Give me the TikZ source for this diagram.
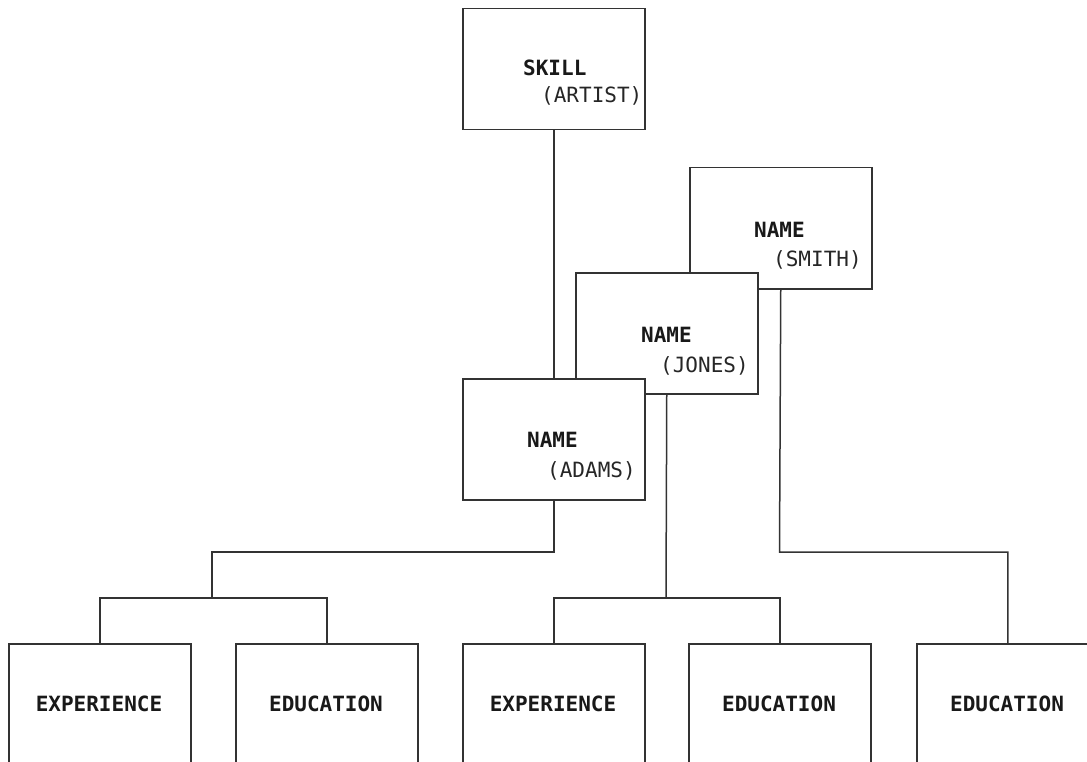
\documentclass[tikz,border=0pt]{standalone}
\usepackage{fontspec}
\setmonofont{DejaVu Sans Mono}
\tikzset{
  ln/.style={line width=1.5pt, draw=black!80},
  box/.style={ln, rectangle, fill=white, minimum width=182pt, minimum height=121pt,
              inner sep=0pt, anchor=north west},
  leaf/.style={ln, rectangle, fill=white, minimum width=182pt, minimum height=160pt,
               inner sep=0pt, anchor=north west},
  head/.style={anchor=base west, inner sep=0pt, text=black!90,
               font=\ttfamily\bfseries\fontsize{21}{21}\selectfont},
  val/.style={anchor=base west, inner sep=0pt, text=black!85,
              font=\ttfamily\fontsize{21}{21}\selectfont},
  leaflabel/.style={anchor=base, inner sep=0pt, text=black!90,
                    font=\ttfamily\bfseries\fontsize{21}{21}\selectfont},
}
\begin{document}
\begin{tikzpicture}[x=1pt, y=-1pt]
\useasboundingbox (0,0) rectangle (1087,762);
\clip (0,0) rectangle (1087,762);

% root segment
\node[box] (skill) at (462,8) {};
\node[head] (skillh) at (523,76) {SKILL};
\node[val]  (skillv) at (541,103) {(ARTIST)};

% name occurrences, drawn back to front
\node[box] (smith) at (689,167) {};
\node[head] (smithh) at (754,237) {NAME};
\node[val]  (smithv) at (773,266) {(SMITH)};

\node[box] (jones) at (575,272) {};
\node[head] (jonesh) at (641,342) {NAME};
\node[val]  (jonesv) at (660,372) {(JONES)};

\node[box] (adams) at (462,378) {};
\node[head] (adamsh) at (527,447) {NAME};
\node[val]  (adamsv) at (547,477) {(ADAMS)};

% dependent segments
\node[leaf] (exp1) at (8,643) {};
\node[leaf] (edu1) at (235,643) {};
\node[leaf] (exp2) at (462,643) {};
\node[leaf] (edu2) at (688,643) {};
\node[leaf] (edu3) at (916,643) {};
\node[leaflabel] (exp1l) at (99,711) {EXPERIENCE};
\node[leaflabel] (edu1l) at (326,711) {EDUCATION};
\node[leaflabel] (exp2l) at (553,711) {EXPERIENCE};
\node[leaflabel] (edu2l) at (779,711) {EDUCATION};
\node[leaflabel] (edu3l) at (1007,711) {EDUCATION};

% junction points
\coordinate (a1) at (212,552);
\coordinate (a2) at (212,598);
\coordinate (j1) at (666,598);
\coordinate (s1) at (779.5,552);

% connectors
\draw[ln] (skill.south) -- (adams.north);
\draw[ln] (adams.south) |- (a1) -- (a2);
\draw[ln] (exp1.north) |- (a2) -| (edu1.north);
\draw[ln] (jones.south) -- (j1);
\draw[ln] (exp2.north) |- (j1) -| (edu2.north);
\draw[ln] (smith.south) -- (s1) -| (edu3.north);
\end{tikzpicture}
\end{document}
